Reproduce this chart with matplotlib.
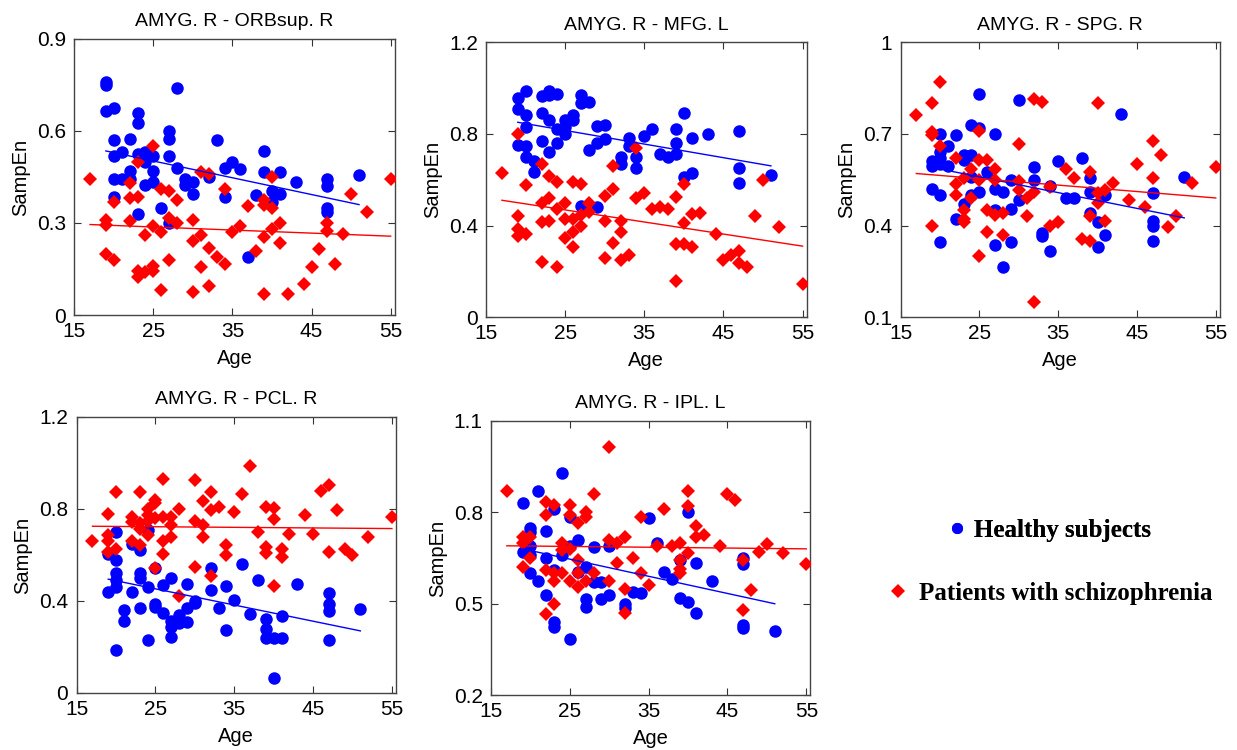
import matplotlib.pyplot as plt
from matplotlib.ticker import FormatStrFormatter
from matplotlib.lines import Line2D

plt.rcParams['font.family'] = ['Liberation Sans', 'DejaVu Sans']

# ---- AMYG. R - ORBsup. R
p1_hc_age = [19, 19, 19, 20, 20, 20, 20, 20, 21, 21, 22, 22, 22, 23, 23, 23, 23, 24, 24, 24,
             25, 25, 25, 26, 27, 27, 27, 27, 28, 28, 29, 29, 30, 30, 32, 33, 34, 34, 35, 36,
             37, 38, 39, 39, 40, 40, 41, 41, 43, 47, 47, 47, 47, 51]
p1_hc_val = [0.76, 0.75, 0.665, 0.675, 0.57, 0.52, 0.445, 0.385, 0.53, 0.445, 0.575, 0.47, 0.445,
             0.66, 0.625, 0.525, 0.33, 0.53, 0.50, 0.425, 0.52, 0.47, 0.435, 0.35, 0.60, 0.575,
             0.52, 0.30, 0.74, 0.48, 0.445, 0.425, 0.435, 0.395, 0.45, 0.57, 0.48, 0.385, 0.50,
             0.475, 0.19, 0.39, 0.535, 0.465, 0.405, 0.37, 0.465, 0.395, 0.435, 0.445, 0.42,
             0.35, 0.335, 0.455]
p1_sz_age = [17, 19, 19, 19, 20, 20, 22, 22, 22, 23, 23, 23, 23, 24, 24, 25, 25, 25, 25, 26,
             26, 26, 27, 27, 27, 28, 28, 30, 30, 30, 31, 31, 31, 32, 32, 32, 33, 34, 34, 35,
             36, 37, 38, 39, 39, 39, 39, 40, 40, 40, 41, 41, 42, 44, 45, 46, 47, 47, 48, 49,
             50, 52, 55]
p1_sz_val = [0.445, 0.31, 0.295, 0.20, 0.37, 0.18, 0.43, 0.38, 0.305, 0.50, 0.385, 0.145, 0.125,
             0.26, 0.14, 0.55, 0.29, 0.16, 0.145, 0.41, 0.27, 0.08, 0.405, 0.315, 0.18, 0.375,
             0.30, 0.31, 0.24, 0.075, 0.465, 0.26, 0.155, 0.46, 0.22, 0.095, 0.19, 0.41, 0.165,
             0.27, 0.29, 0.355, 0.21, 0.375, 0.36, 0.255, 0.07, 0.45, 0.35, 0.28, 0.30, 0.235,
             0.07, 0.10, 0.155, 0.215, 0.30, 0.275, 0.165, 0.265, 0.395, 0.335, 0.445]
p1_hc_fit = [0.535, 0.36]
p1_sz_fit = [0.295, 0.257]

# ---- AMYG. R - MFG. L
p2_hc_age = [19, 19, 19, 20, 20, 20, 20, 20, 21, 21, 22, 22, 22, 23, 23, 23, 23, 24, 24, 24,
             25, 25, 25, 26, 26, 27, 27, 27, 28, 28, 29, 29, 29, 30, 30, 32, 32, 33, 33, 34,
             34, 35, 36, 37, 38, 39, 39, 39, 40, 40, 41, 41, 43, 47, 47, 47, 51]
p2_hc_val = [0.955, 0.91, 0.75, 0.985, 0.88, 0.83, 0.745, 0.70, 0.68, 0.635, 0.965, 0.89, 0.77,
             0.985, 0.97, 0.86, 0.72, 0.975, 0.82, 0.76, 0.86, 0.83, 0.80, 0.88, 0.86, 0.97,
             0.935, 0.485, 0.94, 0.73, 0.835, 0.76, 0.48, 0.84, 0.775, 0.70, 0.67, 0.78, 0.745,
             0.70, 0.65, 0.79, 0.82, 0.71, 0.70, 0.82, 0.76, 0.71, 0.89, 0.61, 0.78, 0.63, 0.80,
             0.81, 0.65, 0.585, 0.62]
p2_sz_age = [17, 19, 19, 19, 19, 20, 20, 22, 22, 22, 22, 23, 23, 23, 24, 24, 24, 25, 25, 25,
             26, 26, 26, 26, 27, 27, 27, 28, 28, 30, 30, 30, 31, 31, 31, 32, 32, 32, 33, 34,
             34, 35, 36, 37, 38, 39, 39, 39, 40, 40, 40, 41, 41, 42, 44, 45, 46, 47, 47, 48,
             49, 50, 52, 55]
p2_sz_val = [0.63, 0.80, 0.44, 0.385, 0.355, 0.575, 0.365, 0.67, 0.50, 0.415, 0.24, 0.615, 0.52,
             0.42, 0.59, 0.47, 0.22, 0.50, 0.43, 0.345, 0.59, 0.43, 0.37, 0.305, 0.58, 0.445,
             0.40, 0.50, 0.46, 0.53, 0.42, 0.26, 0.66, 0.56, 0.325, 0.42, 0.37, 0.25, 0.27, 0.74,
             0.52, 0.54, 0.47, 0.48, 0.47, 0.525, 0.32, 0.16, 0.58, 0.41, 0.32, 0.45, 0.305,
             0.455, 0.365, 0.25, 0.27, 0.29, 0.235, 0.22, 0.44, 0.60, 0.395, 0.145]
p2_hc_fit = [0.85, 0.66]
p2_sz_fit = [0.51, 0.31]

# ---- AMYG. R - SPG. R
p3_hc_age = [19, 19, 19, 20, 20, 20, 20, 20, 20, 21, 21, 22, 22, 23, 23, 23, 24, 24, 24, 24,
             25, 25, 25, 26, 27, 27, 27, 27, 28, 28, 29, 29, 29, 30, 30, 32, 32, 33, 33, 34,
             34, 35, 36, 37, 38, 39, 39, 39, 40, 40, 41, 41, 43, 47, 47, 47, 47, 51]
p3_hc_val = [0.61, 0.595, 0.52, 0.70, 0.64, 0.62, 0.60, 0.50, 0.345, 0.66, 0.595, 0.695, 0.42,
             0.63, 0.615, 0.47, 0.73, 0.63, 0.56, 0.50, 0.83, 0.72, 0.51, 0.575, 0.70, 0.52,
             0.45, 0.335, 0.51, 0.265, 0.55, 0.455, 0.345, 0.81, 0.485, 0.59, 0.55, 0.375,
             0.365, 0.53, 0.315, 0.61, 0.49, 0.49, 0.62, 0.555, 0.51, 0.44, 0.41, 0.33, 0.50,
             0.37, 0.765, 0.505, 0.415, 0.40, 0.35, 0.56]
p3_sz_age = [17, 19, 19, 19, 19, 20, 20, 22, 22, 22, 23, 23, 23, 23, 24, 24, 25, 25, 25, 25,
             26, 26, 26, 27, 27, 27, 28, 28, 30, 30, 30, 31, 31, 32, 32, 32, 33, 34, 34, 35,
             36, 37, 38, 39, 39, 39, 40, 40, 40, 41, 41, 42, 44, 45, 46, 47, 47, 48, 49, 50,
             52, 55]
p3_sz_val = [0.76, 0.80, 0.705, 0.695, 0.40, 0.87, 0.66, 0.62, 0.535, 0.50, 0.555, 0.45, 0.42,
             0.41, 0.585, 0.49, 0.71, 0.615, 0.55, 0.30, 0.615, 0.45, 0.38, 0.585, 0.55, 0.435,
             0.44, 0.37, 0.665, 0.545, 0.515, 0.49, 0.43, 0.815, 0.51, 0.15, 0.805, 0.525, 0.40,
             0.41, 0.585, 0.555, 0.355, 0.575, 0.43, 0.35, 0.80, 0.505, 0.475, 0.515, 0.415,
             0.54, 0.485, 0.60, 0.46, 0.675, 0.555, 0.63, 0.395, 0.43, 0.54, 0.59]
p3_hc_fit = [0.59, 0.425]
p3_sz_fit = [0.57, 0.49]

# ---- AMYG. R - PCL. R
p4_hc_age = [19, 19, 20, 20, 20, 20, 20, 20, 21, 21, 22, 22, 23, 23, 23, 23, 24, 24, 24, 25,
             25, 25, 26, 26, 27, 27, 27, 27, 28, 28, 29, 29, 29, 30, 30, 32, 32, 33, 34, 34,
             35, 36, 37, 38, 39, 39, 39, 40, 40, 41, 41, 43, 47, 47, 47, 47, 51]
p4_hc_val = [0.605, 0.44, 0.70, 0.58, 0.52, 0.49, 0.46, 0.185, 0.36, 0.315, 0.65, 0.44, 0.62,
             0.52, 0.50, 0.37, 0.71, 0.46, 0.23, 0.545, 0.385, 0.375, 0.47, 0.35, 0.50, 0.315,
             0.285, 0.245, 0.34, 0.305, 0.475, 0.37, 0.31, 0.40, 0.39, 0.545, 0.45, 0.37, 0.465,
             0.275, 0.405, 0.56, 0.345, 0.49, 0.32, 0.28, 0.24, 0.24, 0.065, 0.335, 0.24, 0.475,
             0.435, 0.385, 0.355, 0.23, 0.365]
p4_sz_age = [17, 19, 19, 19, 19, 20, 20, 22, 22, 22, 23, 23, 23, 23, 24, 24, 24, 24, 25, 25,
             25, 25, 26, 26, 26, 26, 27, 27, 27, 28, 28, 30, 30, 30, 31, 31, 31, 32, 32, 32,
             33, 34, 34, 35, 36, 37, 38, 39, 39, 39, 40, 40, 40, 41, 41, 42, 44, 45, 46, 47,
             47, 48, 49, 50, 52, 55]
p4_sz_val = [0.66, 0.78, 0.685, 0.66, 0.615, 0.875, 0.625, 0.765, 0.745, 0.66, 0.875, 0.74,
             0.715, 0.645, 0.80, 0.775, 0.75, 0.685, 0.84, 0.825, 0.76, 0.545, 0.93, 0.765,
             0.66, 0.605, 0.765, 0.73, 0.68, 0.80, 0.42, 0.925, 0.75, 0.55, 0.835, 0.73, 0.68,
             0.875, 0.795, 0.51, 0.81, 0.645, 0.60, 0.785, 0.865, 0.985, 0.70, 0.81, 0.635,
             0.61, 0.805, 0.755, 0.465, 0.625, 0.59, 0.69, 0.775, 0.69, 0.88, 0.905, 0.615,
             0.795, 0.625, 0.60, 0.68, 0.765]
p4_hc_fit = [0.495, 0.27]
p4_sz_fit = [0.725, 0.715]

# ---- AMYG. R - IPL. L
p5_hc_age = [19, 19, 20, 20, 20, 20, 20, 21, 21, 22, 22, 22, 23, 23, 23, 23, 24, 24, 25, 25,
             25, 26, 26, 27, 27, 27, 28, 28, 29, 29, 30, 30, 32, 32, 33, 34, 35, 36, 37, 38,
             39, 39, 40, 40, 41, 41, 43, 47, 47, 47, 47, 51]
p5_hc_val = [0.83, 0.67, 0.75, 0.735, 0.69, 0.66, 0.60, 0.87, 0.575, 0.74, 0.65, 0.53, 0.81,
             0.61, 0.44, 0.425, 0.93, 0.66, 0.785, 0.69, 0.385, 0.71, 0.605, 0.62, 0.515, 0.49,
             0.685, 0.57, 0.57, 0.515, 0.69, 0.53, 0.50, 0.485, 0.54, 0.535, 0.78, 0.70, 0.605,
             0.58, 0.645, 0.52, 0.80, 0.505, 0.635, 0.47, 0.575, 0.65, 0.63, 0.43, 0.42, 0.41]
p5_sz_age = [17, 19, 19, 19, 20, 20, 22, 22, 22, 22, 23, 23, 23, 23, 24, 24, 24, 25, 25, 25,
             25, 26, 26, 26, 26, 27, 27, 27, 28, 28, 30, 30, 30, 31, 31, 32, 32, 32, 33, 34,
             34, 35, 36, 37, 38, 39, 39, 39, 39, 40, 40, 40, 41, 41, 42, 44, 45, 46, 47, 47,
             48, 49, 50, 52, 55]
p5_sz_val = [0.87, 0.72, 0.70, 0.62, 0.72, 0.65, 0.835, 0.79, 0.61, 0.465, 0.825, 0.60, 0.575,
             0.50, 0.70, 0.675, 0.60, 0.825, 0.79, 0.68, 0.575, 0.765, 0.645, 0.60, 0.555, 0.80,
             0.785, 0.575, 0.86, 0.60, 1.015, 0.71, 0.575, 0.70, 0.635, 0.72, 0.55, 0.47, 0.65,
             0.785, 0.60, 0.56, 0.69, 0.81, 0.69, 0.70, 0.645, 0.615, 0.60, 0.87, 0.82, 0.665,
             0.755, 0.72, 0.725, 0.69, 0.86, 0.84, 0.645, 0.48, 0.545, 0.67, 0.695, 0.665, 0.63]
p5_hc_fit = [0.68, 0.50]
p5_sz_fit = [0.69, 0.68]

hc_span = [19, 51]   # age range of the healthy-group fit line
sz_span = [17, 55]   # age range of the patient-group fit line

titles = ['AMYG. R - ORBsup. R', 'AMYG. R - MFG. L', 'AMYG. R - SPG. R',
          'AMYG. R - PCL. R', 'AMYG. R - IPL. L']
yticks = [[0, 0.3, 0.6, 0.9], [0, 0.4, 0.8, 1.2], [0.1, 0.4, 0.7, 1.0],
          [0, 0.4, 0.8, 1.2], [0.2, 0.5, 0.8, 1.1]]
xticks = [15, 25, 35, 45, 55]

panels = [
    (p1_hc_age, p1_hc_val, p1_sz_age, p1_sz_val, p1_hc_fit, p1_sz_fit),
    (p2_hc_age, p2_hc_val, p2_sz_age, p2_sz_val, p2_hc_fit, p2_sz_fit),
    (p3_hc_age, p3_hc_val, p3_sz_age, p3_sz_val, p3_hc_fit, p3_sz_fit),
    (p4_hc_age, p4_hc_val, p4_sz_age, p4_sz_val, p4_hc_fit, p4_sz_fit),
    (p5_hc_age, p5_hc_val, p5_sz_age, p5_sz_val, p5_hc_fit, p5_sz_fit),
]

# axes boxes in figure fractions
boxes = [
    [0.060, 0.580, 0.259, 0.368],
    [0.393, 0.577, 0.259, 0.367],
    [0.728, 0.577, 0.258, 0.367],
    [0.062, 0.076, 0.258, 0.368],
    [0.397, 0.073, 0.258, 0.366],
]

BLUE = '#0000ff'
RED = '#ff0000'

fig = plt.figure(figsize=(12.37, 7.5), dpi=100)

for i, (hx, hy, sx, sy, hfit, sfit) in enumerate(panels):
    ax = fig.add_axes(boxes[i])
    ax.plot(hx, hy, 'o', color=BLUE, markersize=9, markeredgewidth=0, zorder=2)
    ax.plot(sx, sy, 'D', color=RED, markersize=7.5, markeredgewidth=0, zorder=3)
    ax.plot(hc_span, hfit, '-', color=BLUE, linewidth=1, zorder=4)
    ax.plot(sz_span, sfit, '-', color=RED, linewidth=1, zorder=4)

    ax.set_xlim(15, 55.5)
    ax.set_ylim(yticks[i][0], yticks[i][-1])
    ax.set_xticks(xticks)
    ax.set_yticks(yticks[i])
    ax.yaxis.set_major_formatter(FormatStrFormatter('%g'))
    ax.tick_params(direction='in', top=True, right=True, length=5,
                   labelsize=15, color='#333333')
    ax.tick_params(axis='x', pad=5)
    ax.tick_params(axis='y', pad=6)
    for s in ax.spines.values():
        s.set_color('#444444')
        s.set_linewidth(1)
    ax.set_title(titles[i], fontsize=14, pad=9)
    ax.set_xlabel('Age', fontsize=14.5, labelpad=5.5)
    ax.set_ylabel('SampEn', fontsize=14.5, labelpad=5)

# group legend in the empty lower-right slot
leg_font = dict(family=['Liberation Serif', 'DejaVu Serif'], weight='bold', size=18)
hc_handle = Line2D([], [], linestyle='none', marker='o', color=BLUE,
                   markersize=8, markeredgewidth=0)
sz_handle = Line2D([], [], linestyle='none', marker='D', color=RED,
                   markersize=7, markeredgewidth=0)
leg1 = fig.legend([hc_handle], ['Healthy subjects'], loc='center left',
                  bbox_to_anchor=(0.7636, 0.293), frameon=False, prop=leg_font,
                  borderpad=0, borderaxespad=0, handletextpad=0.18, handlelength=1.0)
leg2 = fig.legend([sz_handle], ['Patients with schizophrenia'], loc='center left',
                  bbox_to_anchor=(0.7159, 0.209), frameon=False, prop=leg_font,
                  borderpad=0, borderaxespad=0, handletextpad=0.34, handlelength=1.0)
fig.add_artist(leg1)

fig.savefig('out.png', dpi=100)
